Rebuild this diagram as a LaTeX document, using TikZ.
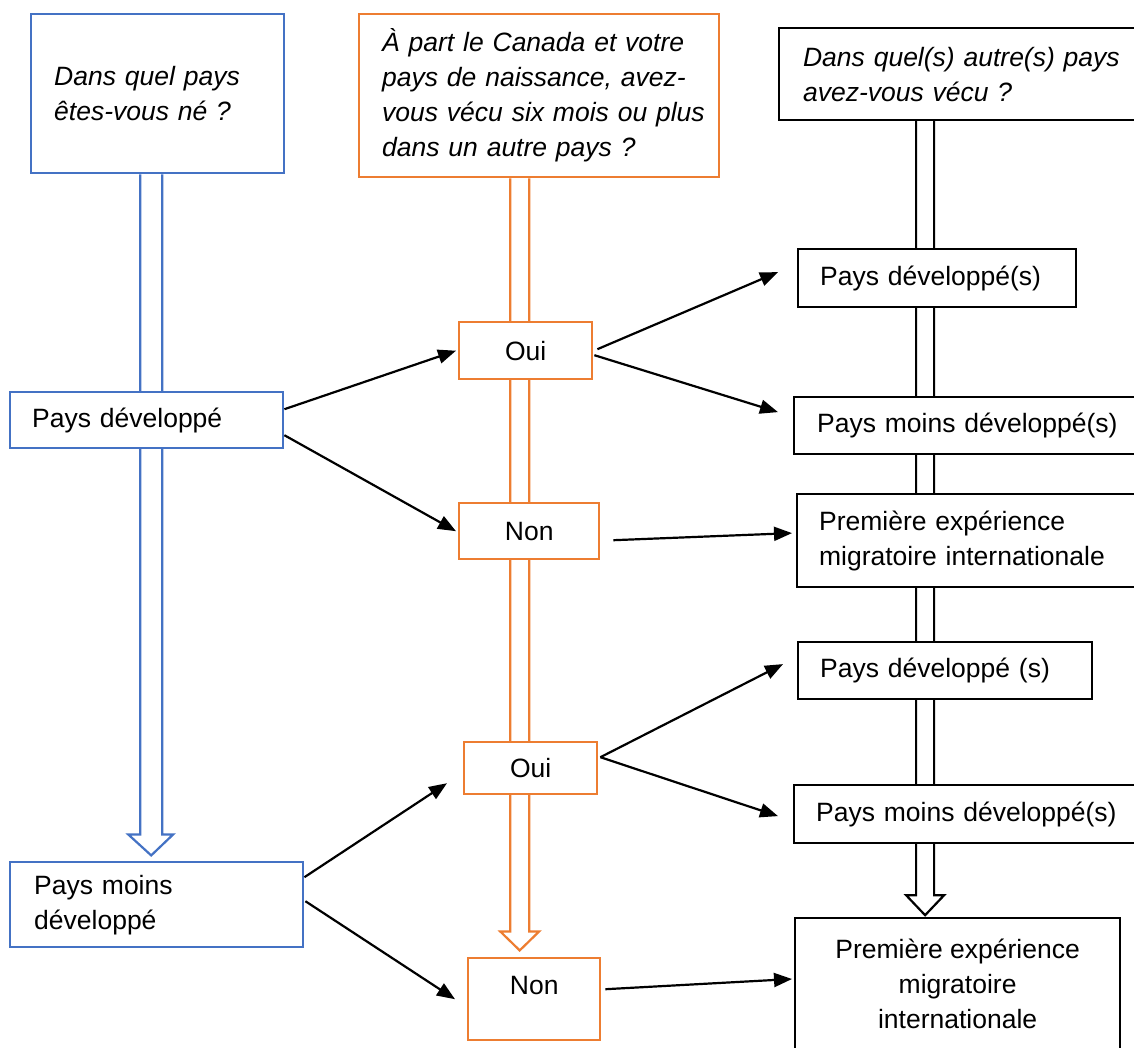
\documentclass[tikz,border=0pt]{standalone}
\usepackage{fontspec}
\setmainfont{Liberation Sans}
\usetikzlibrary{calc,arrows.meta,backgrounds}
\definecolor{cblue}{HTML}{4472C4}
\definecolor{corange}{HTML}{ED7D31}
\newcommand{\lbx}[1]{\mbox{#1}}
\newcommand{\nf}{\fontsize{26.5}{35}\selectfont}
\newcommand{\nfi}{\fontsize{26.5}{35}\selectfont\itshape}
\begin{document}
\begin{tikzpicture}[x=1pt,y=-1pt,
  box/.style={rectangle, draw, fill=white, anchor=north west, inner ysep=0pt, line width=2.4pt, font=\nf},
  leftbox/.style={box, align=left},
  bluebox/.style={leftbox, draw=cblue},
  blackbox/.style={leftbox, draw=black, line width=2.2pt},
  orangebox/.style={box, draw=corange, align=center, inner xsep=0pt},
  conn/.style={line width=2.2pt, -{Triangle[length=18pt,width=14pt]}},
  blockarrow/.style={fill=white, line width=2.2pt, line join=miter},
]
\useasboundingbox (0,0) rectangle (1134,1047);

% questions
\node[bluebox, font=\nfi, minimum width=253, minimum height=159, text width=207, inner xsep=23] (q1) at (30,13)
  {\lbx{Dans quel pays}\\\lbx{êtes-vous né ?}};
\node[leftbox, draw=corange, font=\nfi, minimum width=360, minimum height=163, text width=314, inner xsep=23] (q2) at (358,13)
  {\lbx{À part le Canada et votre}\\\lbx{pays de naissance, avez-}\\\lbx{vous vécu six mois ou plus}\\\lbx{dans un autre pays ?}};
\node[blackbox, font=\nfi, minimum width=360, minimum height=92, text width=312, inner xsep=24] (q3) at (778,27)
  {\lbx{Dans quel(s) autre(s) pays}\\\lbx{avez-vous vécu ?}};

% birth country
\node[bluebox, minimum width=273, minimum height=56, text width=229, inner xsep=22] (pd) at (9,391)
  {\lbx{Pays développé}};
\node[bluebox, minimum width=293, minimum height=85, text width=245, inner xsep=24] (pmd) at (9,861)
  {\lbx{Pays moins}\\\lbx{développé}};

% yes / no
\node[orangebox, minimum width=133, minimum height=57] (oui1) at (458,321) {Oui};
\node[orangebox, minimum width=140, minimum height=56] (non1) at (458,502) {Non};
\node[orangebox, minimum width=133, minimum height=52] (oui2) at (463,741) {Oui};
\node[orangebox, minimum width=132, minimum height=82, text height=19, text depth=29] (non2) at (467,957) {Non};

% outcomes
\node[blackbox, minimum width=278, minimum height=58, text width=234, inner xsep=22] (pd1) at (797,248)
  {\lbx{Pays développé(s)}};
\node[blackbox, minimum width=345, minimum height=57, text width=299, inner xsep=23] (pmd1) at (793,396)
  {\lbx{Pays moins développé(s)}};
\node[blackbox, minimum width=342, minimum height=93, text width=298, inner xsep=22] (pem1) at (796,493)
  {\lbx{Première expérience}\\\lbx{migratoire internationale}};
\node[blackbox, minimum width=294, minimum height=57, text width=250, inner xsep=22] (pd2) at (797,641)
  {\lbx{Pays développé (s)}};
\node[blackbox, minimum width=345, minimum height=58, text width=301, inner xsep=22] (pmd2) at (793,784)
  {\lbx{Pays moins développé(s)}};
\node[box, draw=black, line width=2.2pt, align=center, inner xsep=0pt, minimum width=325, minimum height=132] (pem2) at (794,917)
  {Première expérience\\migratoire\\internationale};

% block arrows
\begin{pgfonlayer}{background}
\fill[white] (0,0) rectangle (1134,1047);
\draw[blockarrow, draw=cblue] ($(q1.south)+(-17.5,0)$) -- ++(0,660) -- ++(-12,0) -- ++(23,21) -- ++(22,-21) -- ++(-11,0) -- ++(0,-660);
\draw[blockarrow, draw=corange] ($(q2.south)+(-29,0)$) -- ++(0,753) -- ++(-10,0) -- ++(19.5,19) -- ++(19.5,-19) -- ++(-10,0) -- ++(0,-753);
\draw[blockarrow, draw=black] ($(q3.south)+(-43,0)$) -- ++(0,774) -- ++(-10,0) -- ++(19,20) -- ++(19,-20) -- ++(-10,0) -- ++(0,-774);
\end{pgfonlayer}

% connectors
\draw[conn] ($(pd.east)+(0,-11)$) -- ($(oui1.west)+(-2,0)$);
\draw[conn] ($(pd.east)+(0,15)$) -- ($(non1.west)+(-2,0)$);
\draw[conn] ($(oui1.east)+(4,-1.5)$) -- ($(pd1.west)+(-19,-6)$);
\draw[conn] ($(oui1.east)+(1,4.5)$) -- ($(pmd1.west)+(-15,-13.5)$);
\draw[conn] ($(non1.east)+(13,9)$) -- ($(pem1.west)+(-4,-7.5)$);
\draw[conn] ($(oui2.east)+(2,-11)$) -- ($(pd2.west)+(-14,-6.5)$);
\draw[conn] ($(oui2.east)+(2,-11)$) -- ($(pmd2.west)+(-15,2)$);
\draw[conn] ($(pmd.east)+(0,-27.5)$) -- ($(oui2.west)+(-16,15)$);
\draw[conn] ($(pmd.east)+(1,-3.5)$) -- ($(non2.west)+(-12,0)$);
\draw[conn] ($(non2.east)+(4,-10)$) -- ($(pem2.north west)+(-2,62)$);
\end{tikzpicture}
\end{document}
